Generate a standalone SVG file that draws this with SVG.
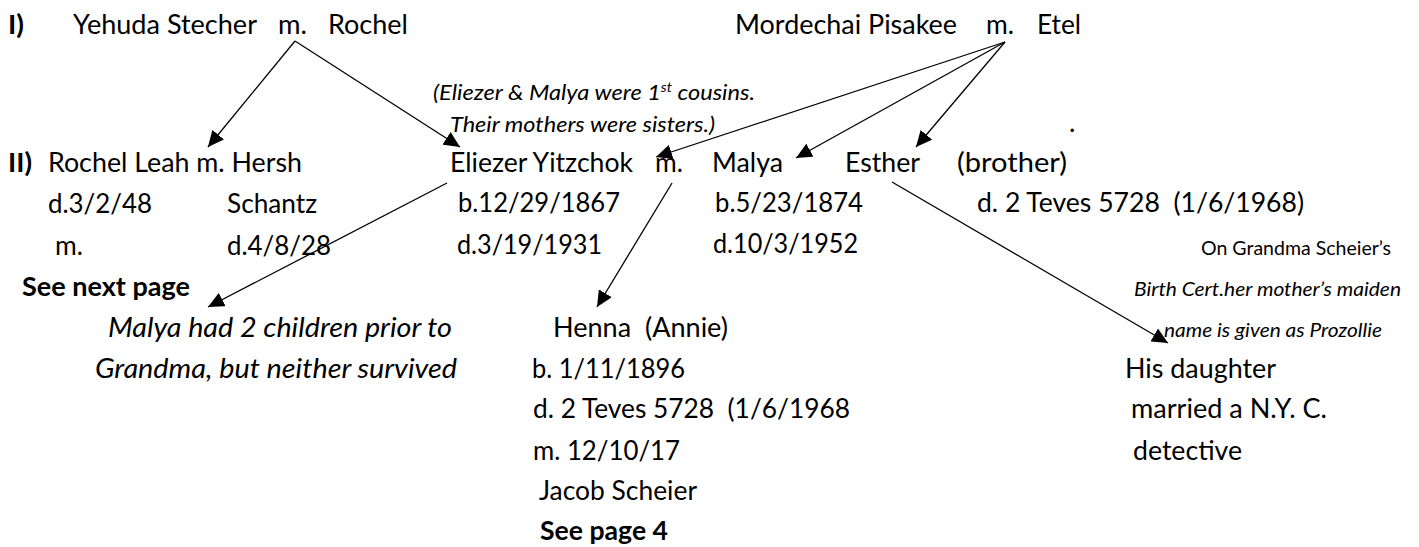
<svg xmlns="http://www.w3.org/2000/svg" width="1419" height="547" viewBox="0 0 1419 547">
<style>
text{font-family:Lato,'Liberation Sans',sans-serif;font-size:27px;fill:#000;white-space:pre}
.b{font-weight:bold}
.i{font-style:italic}
.s{font-size:20px}
.n{font-size:21px}
.c line{stroke:#000;stroke-width:1.3;marker-end:url(#ah)}
</style>
<defs>
<marker id="ah" markerUnits="userSpaceOnUse" markerWidth="17" markerHeight="15" refX="16" refY="7.5" orient="auto" viewBox="0 0 17 15">
<path d="M0,0 L16,7.5 L0,15 z" fill="#000"/>
</marker>
</defs>
<rect width="1419" height="547" fill="#fff"/>
<g id="gen-labels">
<text class="b" x="8" y="34" textLength="16" lengthAdjust="spacingAndGlyphs">I)</text>
<text class="b" x="8" y="172" textLength="24" lengthAdjust="spacingAndGlyphs">II)</text>
</g>
<g id="node-yehuda-rochel">
<text x="73" y="34" textLength="184" lengthAdjust="spacingAndGlyphs">Yehuda Stecher</text>
<text x="278" y="34" textLength="29" lengthAdjust="spacingAndGlyphs">m.</text>
<text x="328" y="34" textLength="80" lengthAdjust="spacingAndGlyphs">Rochel</text>
</g>
<g id="node-mordechai-etel">
<text x="735" y="34" textLength="222" lengthAdjust="spacingAndGlyphs">Mordechai Pisakee</text>
<text x="986" y="34" textLength="28" lengthAdjust="spacingAndGlyphs">m.</text>
<text x="1037" y="34" textLength="44" lengthAdjust="spacingAndGlyphs">Etel</text>
</g>
<g id="note-cousins">
<text class="i n" x="433" y="100" textLength="322" lengthAdjust="spacingAndGlyphs">(Eliezer &amp; Malya were 1<tspan font-size="13" dy="-8">st</tspan><tspan dy="8"> cousins.</tspan></text>
<text class="i n" x="450" y="132" textLength="265" lengthAdjust="spacingAndGlyphs">Their mothers were sisters.)</text>
</g>
<g id="node-rochel-leah">
<text x="48" y="172" textLength="254" lengthAdjust="spacingAndGlyphs">Rochel Leah m. Hersh</text>
<text x="48" y="213" textLength="104" lengthAdjust="spacingAndGlyphs">d.3/2/48</text>
<text x="227" y="213" textLength="90" lengthAdjust="spacingAndGlyphs">Schantz</text>
<text x="55" y="255" textLength="28" lengthAdjust="spacingAndGlyphs">m.</text>
<text x="227" y="255" textLength="104" lengthAdjust="spacingAndGlyphs">d.4/8/28</text>
<text class="b" x="22" y="296" textLength="168" lengthAdjust="spacingAndGlyphs">See next page</text>
</g>
<g id="node-eliezer">
<text x="450" y="172" textLength="183" lengthAdjust="spacingAndGlyphs">Eliezer Yitzchok</text>
<text x="655" y="172" textLength="28" lengthAdjust="spacingAndGlyphs">m.</text>
<text x="458" y="212" textLength="162" lengthAdjust="spacingAndGlyphs">b.12/29/1867</text>
<text x="457" y="254" textLength="145" lengthAdjust="spacingAndGlyphs">d.3/19/1931</text>
</g>
<g id="node-malya">
<text x="712" y="172" textLength="71" lengthAdjust="spacingAndGlyphs">Malya</text>
<text x="715" y="212" textLength="148" lengthAdjust="spacingAndGlyphs">b.5/23/1874</text>
<text x="713" y="253" textLength="145" lengthAdjust="spacingAndGlyphs">d.10/3/1952</text>
</g>
<g id="node-esther">
<text x="845" y="172" textLength="75" lengthAdjust="spacingAndGlyphs">Esther</text>
</g>
<g id="node-brother">
<text x="957" y="172" textLength="110" lengthAdjust="spacingAndGlyphs">(brother)</text>
<text x="977" y="212" textLength="327" lengthAdjust="spacingAndGlyphs">d. 2 Teves 5728  (1/6/1968)</text>
<text x="1069" y="132" font-size="16">.</text>
</g>
<g id="note-birth-cert">
<text class="s" x="1201" y="255" textLength="190" lengthAdjust="spacingAndGlyphs">On Grandma Scheier’s</text>
<text class="s i" x="1134" y="296" textLength="267" lengthAdjust="spacingAndGlyphs">Birth Cert.her mother’s maiden</text>
<text class="s i" x="1164" y="337" textLength="218" lengthAdjust="spacingAndGlyphs">name is given as Prozollie</text>
</g>
<g id="note-malya-children">
<text class="i" x="108" y="337" textLength="344" lengthAdjust="spacingAndGlyphs">Malya had 2 children prior to</text>
<text class="i" x="95" y="378" textLength="362" lengthAdjust="spacingAndGlyphs">Grandma, but neither survived</text>
</g>
<g id="node-henna">
<text x="553" y="337" textLength="175" lengthAdjust="spacingAndGlyphs">Henna  (Annie)</text>
<text x="532" y="378" textLength="153" lengthAdjust="spacingAndGlyphs">b. 1/11/1896</text>
<text x="533" y="418" textLength="317" lengthAdjust="spacingAndGlyphs">d. 2 Teves 5728  (1/6/1968</text>
<text x="533" y="460" textLength="147" lengthAdjust="spacingAndGlyphs">m. 12/10/17</text>
<text x="539" y="500" textLength="158" lengthAdjust="spacingAndGlyphs">Jacob Scheier</text>
<text class="b" x="540" y="540" textLength="128" lengthAdjust="spacingAndGlyphs">See page 4</text>
</g>
<g id="node-his-daughter">
<text x="1125" y="378" textLength="151" lengthAdjust="spacingAndGlyphs">His daughter</text>
<text x="1131" y="418" textLength="196" lengthAdjust="spacingAndGlyphs">married a N.Y. C.</text>
<text x="1133" y="460" textLength="109" lengthAdjust="spacingAndGlyphs">detective</text>
</g>
<g id="connectors" class="c">
<line x1="295" y1="41" x2="208" y2="147"/>
<line x1="295" y1="41" x2="460" y2="147"/>
<line x1="1005" y1="42" x2="656" y2="157"/>
<line x1="1005" y1="42" x2="796" y2="158"/>
<line x1="1005" y1="42" x2="916" y2="147"/>
<line x1="447" y1="183" x2="208" y2="307"/>
<line x1="672" y1="183" x2="597" y2="307"/>
<line x1="892" y1="182" x2="1168" y2="343"/>
</g>
</svg>
